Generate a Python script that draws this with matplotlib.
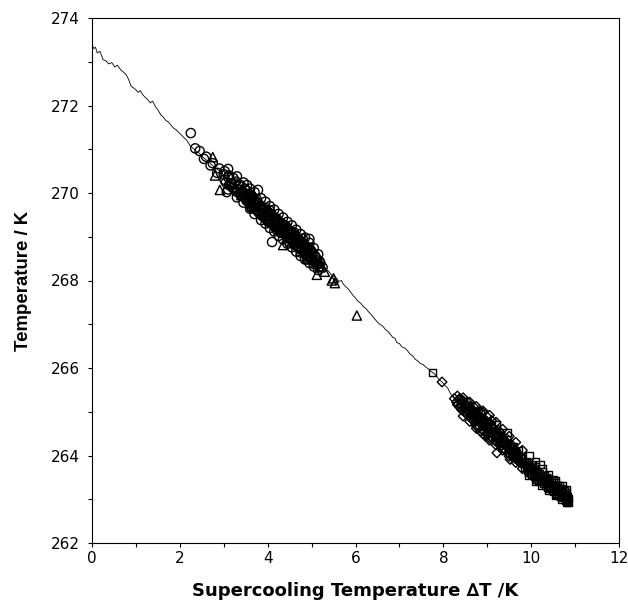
import matplotlib
matplotlib.use("Agg")
import matplotlib.pyplot as plt
from matplotlib.ticker import MultipleLocator

plt.rcParams['font.family'] = ['DejaVu Sans']

# ---- data ----
line_x = [0.00, 0.04, 0.08, 0.12, 0.18, 0.25, 0.32, 0.38, 0.45, 0.52, 0.58, 0.65, 0.72, 0.78,
          0.84, 0.89, 0.95, 1.00, 1.05, 1.10, 1.16, 1.22, 1.28, 1.33, 1.38, 1.44, 1.50, 1.57,
          1.62, 1.68, 1.74, 1.80, 1.86, 1.92, 1.98, 2.04, 2.10, 2.16, 2.22, 2.28, 2.35, 2.45,
          2.55, 2.65, 2.75, 2.85, 2.95, 3.05, 3.15, 3.25, 3.35, 3.45, 3.55, 3.65, 3.75, 3.85,
          3.95, 4.05, 4.15, 4.25, 4.35, 4.45, 4.55, 4.65, 4.75, 4.85, 4.95, 5.05, 5.15, 5.25,
          5.32, 5.38, 5.44, 5.50, 5.56, 5.62, 5.68, 5.72, 5.78, 5.84, 5.90, 5.96, 6.00, 6.06,
          6.12, 6.18, 6.24, 6.30, 6.36, 6.42, 6.49, 6.55, 6.62, 6.68, 6.74, 6.80, 6.85, 6.90,
          6.94, 7.00, 7.06, 7.12, 7.18, 7.24, 7.30, 7.36, 7.42, 7.48, 7.54, 7.60, 7.66, 7.72,
          7.78, 7.84, 7.90, 7.97, 8.04, 8.10, 8.16, 8.20, 8.30, 8.45, 8.60, 8.75, 8.90, 9.05,
          9.20, 9.35, 9.50, 9.65, 9.80, 9.95, 10.10, 10.25, 10.40, 10.55, 10.70, 10.84]
line_t = [273.40, 273.30, 273.33, 273.20, 273.24, 273.05, 273.02, 272.95, 272.98, 272.88, 272.92,
          272.82, 272.76, 272.70, 272.58, 272.44, 272.40, 272.36, 272.30, 272.34, 272.24, 272.18,
          272.12, 272.06, 272.10, 271.98, 271.90, 271.78, 271.74, 271.66, 271.62, 271.55, 271.48,
          271.44, 271.38, 271.32, 271.26, 271.20, 271.10, 271.04, 270.98, 270.90, 270.80, 270.72,
          270.62, 270.54, 270.46, 270.36, 270.28, 270.18, 270.10, 270.00, 269.92, 269.82, 269.72,
          269.62, 269.54, 269.44, 269.36, 269.26, 269.18, 269.08, 269.00, 268.90, 268.80, 268.72,
          268.62, 268.52, 268.44, 268.34, 268.26, 268.22, 268.14, 268.10, 268.06, 267.98, 268.00,
          267.92, 267.86, 267.80, 267.72, 267.64, 267.60, 267.52, 267.48, 267.40, 267.36, 267.28,
          267.22, 267.14, 267.06, 267.00, 266.96, 266.88, 266.84, 266.76, 266.70, 266.68, 266.58,
          266.56, 266.48, 266.46, 266.40, 266.32, 266.28, 266.20, 266.16, 266.10, 266.08, 266.02,
          265.98, 265.92, 265.88, 265.82, 265.74, 265.68, 265.60, 265.54, 265.42, 265.36, 265.26,
          265.14, 265.02, 264.90, 264.76, 264.64, 264.50, 264.36, 264.22, 264.06, 263.92, 263.78,
          263.64, 263.50, 263.38, 263.24, 263.12, 263.00]

# circles (sparse part + outliers)
circ_x = [2.25, 2.35, 2.45, 2.55, 2.60, 2.70, 2.75, 2.85, 2.90, 3.00, 3.05, 3.07, 3.10, 3.15,
          3.20, 3.25, 3.30, 3.35, 3.40, 3.45, 3.50, 3.53, 3.55, 3.60, 3.65, 3.70, 3.75, 3.78,
          3.80, 3.85, 3.90, 3.95, 4.00, 4.00, 4.05, 4.10, 4.10, 4.15, 4.20, 4.20, 4.25, 4.30,
          4.30, 4.35, 4.40, 4.40, 4.45, 4.50, 4.50, 4.55, 4.60, 4.60, 4.65, 4.70, 4.70, 4.75,
          4.80, 4.80, 4.85, 4.90, 4.90, 4.95, 4.95, 5.00, 5.00, 5.05, 5.10, 5.15, 5.20, 5.25,
          3.42, 3.58, 3.72, 3.88, 3.98, 4.08, 4.18, 4.28, 4.38, 4.48, 4.58, 4.68, 4.78, 4.88,
          3.32, 3.18, 3.62, 4.12, 4.42, 4.62]
circ_t = [271.37, 271.02, 270.96, 270.78, 270.83, 270.63, 270.68, 270.46, 270.56, 270.43, 270.24,
          270.02, 270.36, 270.22, 270.12, 270.22, 270.09, 270.16, 269.98, 270.01, 269.87, 270.18,
          269.96, 269.76, 269.91, 269.74, 269.86, 270.07, 269.55, 269.67, 269.52, 269.66, 269.35,
          269.55, 269.60, 269.32, 268.88, 269.37, 269.42, 269.16, 269.22, 269.31, 269.09, 269.19,
          269.04, 269.26, 269.13, 268.87, 269.11, 268.96, 269.10, 268.82, 268.93, 268.76, 268.96,
          268.64, 268.79, 268.95, 268.61, 268.72, 268.48, 268.75, 268.95, 268.51, 268.67, 268.38,
          268.52, 268.37, 268.40, 268.30,
          269.93, 269.84, 269.80, 269.60, 269.45, 269.50, 269.28, 269.18, 269.10, 268.98, 268.90,
          268.86, 268.70, 268.66, 270.02, 270.20, 269.70, 269.45, 269.20, 269.00]

# circles (dense core of the band)
circ_core_x = [3.02, 3.02, 3.12, 3.12, 3.22, 3.22, 3.28, 3.28, 3.38, 3.38, 3.48, 3.48, 3.52, 3.52,
               3.57, 3.57, 3.63, 3.63, 3.63, 3.68, 3.68, 3.73, 3.73, 3.73, 3.78, 3.78, 3.83, 3.83,
               3.83, 3.87, 3.87, 3.92, 3.92, 3.92, 3.97, 3.97, 4.02, 4.02, 4.02, 4.07, 4.07, 4.13,
               4.13, 4.13, 4.17, 4.17, 4.22, 4.22, 4.22, 4.27, 4.27, 4.32, 4.32, 4.32, 4.37, 4.37,
               4.43, 4.43, 4.43, 4.47, 4.47, 4.52, 4.52, 4.52, 4.57, 4.57, 4.63, 4.63, 4.63, 4.67,
               4.67, 4.72, 4.72, 4.72, 4.77, 4.77, 4.83, 4.83, 4.83, 4.87, 4.87, 4.92, 4.92, 4.97,
               4.97, 5.02, 5.02, 5.08, 5.08, 5.13, 5.13, 5.18, 5.18]
circ_core_t = [270.30, 270.50, 270.18, 270.40, 270.12, 270.34, 270.26, 270.04, 269.96, 270.18,
               269.90, 270.10, 269.82, 270.05, 269.98, 269.80, 269.75, 269.95, 269.66, 269.86,
               269.68, 269.62, 269.82, 269.72, 269.58, 269.78, 269.70, 269.52, 269.62, 269.48,
               269.68, 269.62, 269.44, 269.54, 269.40, 269.60, 269.56, 269.36, 269.48, 269.32,
               269.52, 269.46, 269.26, 269.38, 269.22, 269.42, 269.38, 269.20, 269.30, 269.16,
               269.34, 269.30, 269.12, 269.22, 269.08, 269.26, 269.22, 269.02, 269.12, 268.98,
               269.16, 269.12, 268.94, 269.04, 268.88, 269.08, 269.02, 268.82, 268.94, 268.78,
               268.98, 268.92, 268.74, 268.84, 268.70, 268.88, 268.82, 268.62, 268.74, 268.58,
               268.78, 268.72, 268.54, 268.50, 268.68, 268.62, 268.46, 268.42, 268.56, 268.46,
               268.36, 268.32, 268.44]

# circles (outer edges of the band)
circ_edge_x = [3.10, 3.10, 3.30, 3.30, 3.45, 3.45, 3.60, 3.60, 3.70, 3.70, 3.85, 3.85, 3.95, 3.95,
               4.05, 4.05, 4.15, 4.15, 4.25, 4.25, 4.35, 4.35, 4.45, 4.45, 4.55, 4.55, 4.65, 4.65,
               4.75, 4.75, 4.85, 4.85, 4.95, 4.95, 5.05, 5.05, 5.15, 5.15]
circ_edge_t = [270.55, 270.08, 270.38, 269.90, 270.24, 269.78, 270.10, 269.64, 270.02, 269.52,
               269.88, 269.38, 269.80, 269.30, 269.70, 269.20, 269.62, 269.12, 269.52, 269.02,
               269.44, 268.94, 269.34, 268.84, 269.26, 268.76, 269.16, 268.66, 269.06, 268.56,
               268.98, 268.48, 268.86, 268.40, 268.74, 268.32, 268.60, 268.24]

tri_x = [2.75, 2.80, 2.91, 3.20, 3.40, 3.60, 3.95, 4.00, 4.35, 4.60, 4.90, 5.12, 5.20, 5.30,
         5.46, 5.50, 5.53, 6.03]
tri_t = [270.82, 270.40, 270.07, 270.25, 269.95, 269.85, 269.50, 269.60, 268.81, 268.90, 268.50,
         268.13, 268.30, 268.20, 268.00, 268.05, 267.94, 267.20]

diam_x = [7.97, 8.25, 8.30, 8.35, 8.40, 8.45, 8.45, 8.50, 8.55, 8.60, 8.60, 8.65, 8.70, 8.70,
          8.75, 8.80, 8.80, 8.85, 8.90, 8.90, 8.95, 8.95, 9.00, 9.00, 9.05, 9.10, 9.10, 9.15,
          9.20, 9.22, 9.25, 9.30, 9.30, 9.35, 9.40, 9.45, 9.50, 9.52, 9.55, 9.60, 9.65, 9.70,
          9.75, 9.80, 9.85, 8.85, 8.75, 9.05]
diam_t = [265.68, 265.30, 265.22, 265.28, 265.15, 265.05, 265.25, 265.10, 265.22, 264.98, 265.12,
          265.05, 264.85, 265.10, 264.95, 264.78, 265.02, 264.88, 264.70, 264.98, 264.82, 264.45,
          264.62, 264.88, 264.72, 264.55, 264.80, 264.62, 264.45, 264.06, 264.58, 264.35, 264.52,
          264.40, 264.25, 264.38, 264.15, 263.91, 264.25, 264.05, 264.12, 263.95, 263.85, 263.92,
          263.80, 264.55, 264.68, 264.35]

diam_core_x = [8.32, 8.32, 8.38, 8.38, 8.42, 8.42, 8.48, 8.48, 8.48, 8.52, 8.52, 8.58, 8.58, 8.58,
               8.62, 8.62, 8.68, 8.68, 8.68, 8.72, 8.72, 8.72, 8.78, 8.78, 8.78, 8.82, 8.82, 8.82,
               8.88, 8.88, 8.88, 8.92, 8.92, 8.92, 8.98, 8.98, 8.98, 9.02, 9.02, 9.02, 9.08, 9.08,
               9.08, 9.12, 9.12, 9.12, 9.18, 9.18, 9.18, 9.22, 9.22, 9.22, 9.28, 9.28, 9.28, 9.32,
               9.32, 9.38, 9.38, 9.38, 9.42, 9.42, 9.48, 9.48, 9.48, 9.52, 9.52, 9.58, 9.58, 9.62,
               9.62, 9.68, 9.68, 9.72, 9.72, 9.78, 9.78,
               8.45, 8.45, 8.60, 8.60, 8.75, 8.75, 8.90, 8.90, 9.05, 9.05, 9.20, 9.20, 9.35, 9.35,
               9.50, 9.50, 9.65, 9.65, 9.80, 9.80]
diam_core_t = [265.16, 265.36, 265.10, 265.30, 265.22, 265.04, 265.00, 265.20, 265.10, 264.96,
               265.16, 265.10, 264.90, 265.00, 264.86, 265.08, 265.02, 264.80, 264.92, 264.76,
               264.98, 264.88, 264.94, 264.70, 264.84, 264.66, 264.90, 264.78, 264.86, 264.60,
               264.74, 264.56, 264.82, 264.70, 264.76, 264.50, 264.64, 264.48, 264.74, 264.60,
               264.66, 264.42, 264.54, 264.40, 264.62, 264.50, 264.56, 264.34, 264.46, 264.30,
               264.52, 264.40, 264.46, 264.26, 264.36, 264.22, 264.42, 264.36, 264.16, 264.26,
               264.12, 264.32, 264.26, 264.06, 264.16, 264.02, 264.22, 264.16, 263.98, 263.94,
               264.12, 264.06, 263.90, 263.86, 264.02, 263.96, 263.82,
               265.32, 264.90, 265.22, 264.78, 265.12, 264.62, 265.02, 264.50, 264.92, 264.40,
               264.76, 264.24, 264.60, 264.12, 264.44, 263.98, 264.30, 263.84, 264.12, 263.70]

sq_x = [7.76, 8.40, 8.55, 8.70, 8.85, 9.00, 9.10, 9.20, 9.30, 9.45, 9.60, 9.70, 9.80, 9.90,
        9.95, 10.00, 10.05, 10.10, 10.13, 10.15, 10.20, 10.20, 10.25, 10.30, 10.30, 10.35, 10.40,
        10.40, 10.45, 10.50, 10.50, 10.55, 10.55, 10.60, 10.60, 10.65, 10.65, 10.70, 10.70, 10.75,
        10.75, 10.80, 10.80, 10.82, 10.84, 10.78, 10.68, 10.58, 10.45, 10.35, 10.25, 10.15, 10.05,
        9.95, 9.90]
sq_t = [265.90, 265.20, 265.05, 265.00, 264.95, 264.75, 264.68, 264.70, 264.45, 264.52, 264.20,
        264.10, 263.98, 263.85, 263.70, 263.80, 263.65, 263.75, 263.46, 263.60, 263.80, 263.55,
        263.62, 263.45, 263.55, 263.50, 263.38, 263.48, 263.42, 263.30, 263.45, 263.25, 263.38,
        263.30, 263.18, 263.22, 263.32, 263.15, 263.25, 263.10, 263.20, 263.05, 263.15, 263.00,
        262.93, 263.02, 263.10, 263.12, 263.30, 263.38, 263.45, 263.50, 263.58, 263.62, 263.75]

sq_core_x = [8.62, 8.78, 8.95, 9.15, 9.35, 9.55, 9.65, 9.75, 9.85, 9.85, 9.92, 9.92, 9.98, 9.98,
             10.02, 10.02, 10.08, 10.08, 10.12, 10.12, 10.18, 10.18, 10.22, 10.22, 10.28, 10.28,
             10.32, 10.32, 10.38, 10.38, 10.42, 10.42, 10.48, 10.48, 10.52, 10.52, 10.58, 10.58,
             10.62, 10.62, 10.68, 10.68, 10.72, 10.72, 10.78, 10.78, 10.82, 10.82, 10.85,
             9.95, 9.95, 10.10, 10.10, 10.25, 10.25, 10.40, 10.40, 10.55, 10.55, 10.70, 10.70,
             10.80, 10.80]
sq_core_t = [265.04, 264.86, 264.66, 264.50, 264.30, 264.12, 264.00, 263.92, 263.84, 263.72,
             263.78, 263.66, 263.74, 263.62, 263.70, 263.56, 263.66, 263.52, 263.62, 263.50,
             263.58, 263.44, 263.54, 263.40, 263.50, 263.36, 263.44, 263.32, 263.42, 263.28,
             263.36, 263.24, 263.34, 263.20, 263.28, 263.18, 263.26, 263.14, 263.20, 263.10,
             263.18, 263.06, 263.12, 263.04, 263.10, 262.98, 263.06, 262.96, 263.02,
             264.00, 263.54, 263.86, 263.42, 263.70, 263.32, 263.56, 263.20, 263.42, 263.10,
             263.30, 263.00, 263.22, 262.94]

x_ticks = [0, 2, 4, 6, 8, 10, 12]
y_ticks = [262, 264, 266, 268, 270, 272, 274]

# ---- figure ----
fig = plt.figure(figsize=(6.28, 6.00), dpi=100)
ax = fig.add_axes([92/628, 1-543/600, (619-92)/628, (543-18)/600])

ax.plot(line_x, line_t, color='black', lw=0.6, zorder=2)
mk = dict(facecolors='none', edgecolors='black', linewidths=1.0, zorder=3)
ax.scatter(circ_x + circ_core_x + circ_edge_x, circ_t + circ_core_t + circ_edge_t,
           marker='o', s=44, **mk)
ax.scatter(tri_x, tri_t, marker='^', s=44, **mk)
ax.scatter(diam_x + diam_core_x, diam_t + diam_core_t, marker='D', s=24, **mk)
ax.scatter(sq_x + sq_core_x, sq_t + sq_core_t, marker='s', s=28, **mk)

ax.set_xlim(0, 12)
ax.set_ylim(262, 274)
ax.set_xticks(x_ticks)
ax.set_yticks(y_ticks)
ax.xaxis.set_minor_locator(MultipleLocator(1))
ax.yaxis.set_minor_locator(MultipleLocator(1))
ax.tick_params(which='both', direction='out', top=False, right=False, width=0.8, length=3,
               labelsize=11, colors='black')
ax.tick_params(axis='y', which='major', pad=6)
ax.tick_params(axis='x', which='major', pad=3)
for s in ax.spines.values():
    s.set_linewidth(0.8)

ax.set_xlabel('Supercooling Temperature ∆T /K', fontsize=13, fontweight='bold', labelpad=11)
ax.set_ylabel('Temperature / K', fontsize=13.4, fontweight='bold', labelpad=13,
              family=['Liberation Sans', 'DejaVu Sans'])

fig.savefig('out.png', dpi=100)
